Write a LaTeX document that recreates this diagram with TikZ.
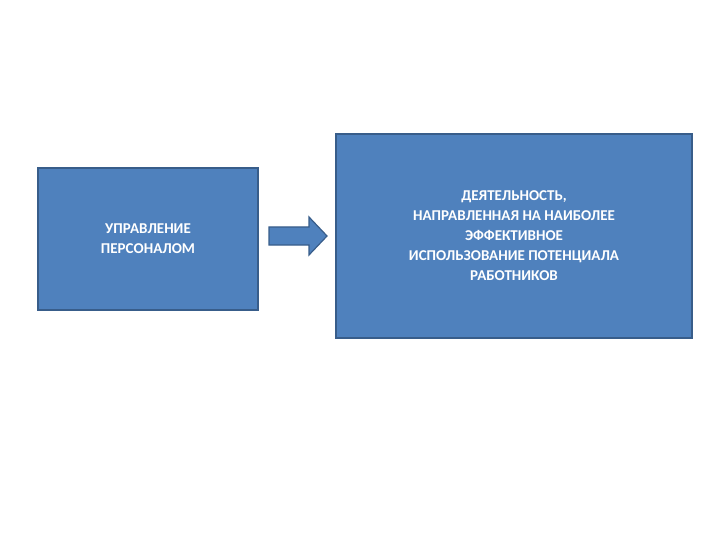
\documentclass[tikz,border=0pt]{standalone}
\usepackage{fontspec}
\setmainfont{Carlito}
\begin{document}
\begin{tikzpicture}[x=1pt,y=-1pt,
  box/.style={draw=blue!30!black!60!cyan!60!black, fill=boxfill, line width=1.2pt, text=white, font=\bfseries\fontsize{15}{20}\selectfont, align=center, inner sep=0pt}]
\definecolor{boxfill}{HTML}{4F81BD}
\definecolor{boxline}{HTML}{385D8A}
\tikzset{box/.append style={draw=boxline}}
\useasboundingbox (0,0) rectangle (720,540);
\node[box, minimum width=220pt, minimum height=142pt] (a) at (148,239) {УПРАВЛЕНИЕ\\ПЕРСОНАЛОМ};
\node[box, minimum width=356pt, minimum height=204pt] (b) at (514,236) {ДЕЯТЕЛЬНОСТЬ,\\НАПРАВЛЕННАЯ НА НАИБОЛЕЕ\\ЭФФЕКТИВНОЕ\\ИСПОЛЬЗОВАНИЕ ПОТЕНЦИАЛА\\РАБОТНИКОВ};
\coordinate (s) at (269,236);
\coordinate (t) at (327,236);
\draw[boxline, fill=boxfill, line width=1.2pt] (269,227) -- (309,227) -- (309,217) -- (t) -- (309,255) -- (309,245) -- (269,245) -- cycle;
\end{tikzpicture}
\end{document}
